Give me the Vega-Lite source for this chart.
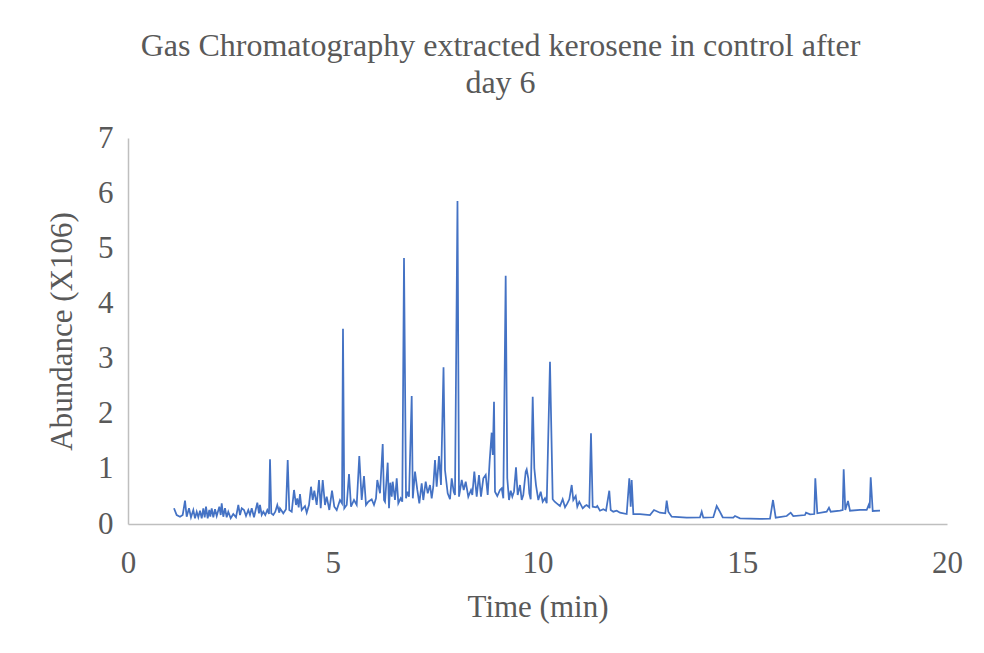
{
  "$schema": "https://vega.github.io/schema/vega-lite/v6.json",
  "autosize": "none",
  "width": 819,
  "height": 386,
  "padding": {"left": 128, "top": 138, "right": 37, "bottom": 129},
  "background": "white",
  "title": {
    "text": ["Gas Chromatography extracted kerosene in control after", "day 6"],
    "font": "Liberation Serif",
    "fontSize": 32,
    "fontWeight": "normal",
    "color": "#595959",
    "lineHeight": 37,
    "anchor": "middle",
    "frame": "group",
    "dx": -37,
    "offset": 22
  },
  "data": {"values": [
    {"t":1.123,"a":0.285},{"t":1.189,"a":0.163},{"t":1.27,"a":0.132},{"t":1.336,"a":0.163},{"t":1.392,"a":0.423},{"t":1.433,"a":0.132},{"t":1.49,"a":0.285},{"t":1.538,"a":0.122},{"t":1.595,"a":0.254},{"t":1.636,"a":0.103},{"t":1.678,"a":0.223},{"t":1.717,"a":0.122},{"t":1.758,"a":0.241},{"t":1.8,"a":0.103},{"t":1.839,"a":0.285},{"t":1.873,"a":0.122},{"t":1.905,"a":0.314},{"t":1.946,"a":0.103},{"t":1.985,"a":0.254},{"t":2.01,"a":0.132},{"t":2.044,"a":0.285},{"t":2.083,"a":0.122},{"t":2.125,"a":0.267},{"t":2.166,"a":0.145},{"t":2.23,"a":0.314},{"t":2.264,"a":0.163},{"t":2.288,"a":0.375},{"t":2.327,"a":0.132},{"t":2.369,"a":0.285},{"t":2.41,"a":0.122},{"t":2.449,"a":0.223},{"t":2.508,"a":0.103},{"t":2.571,"a":0.181},{"t":2.637,"a":0.122},{"t":2.694,"a":0.345},{"t":2.735,"a":0.163},{"t":2.777,"a":0.285},{"t":2.833,"a":0.254},{"t":2.882,"a":0.145},{"t":2.938,"a":0.254},{"t":2.979,"a":0.163},{"t":3.021,"a":0.285},{"t":3.077,"a":0.122},{"t":3.158,"a":0.386},{"t":3.199,"a":0.194},{"t":3.223,"a":0.345},{"t":3.265,"a":0.163},{"t":3.304,"a":0.223},{"t":3.353,"a":0.163},{"t":3.402,"a":0.254},{"t":3.443,"a":0.181},{"t":3.468,"a":1.173},{"t":3.499,"a":0.194},{"t":3.548,"a":0.163},{"t":3.597,"a":0.223},{"t":3.646,"a":0.345},{"t":3.695,"a":0.205},{"t":3.712,"a":0.285},{"t":3.792,"a":0.194},{"t":3.858,"a":0.267},{"t":3.9,"a":1.161},{"t":3.939,"a":0.254},{"t":3.998,"a":0.223},{"t":4.054,"a":0.617},{"t":4.103,"a":0.345},{"t":4.134,"a":0.466},{"t":4.168,"a":0.303},{"t":4.2,"a":0.544},{"t":4.242,"a":0.254},{"t":4.322,"a":0.326},{"t":4.364,"a":0.205},{"t":4.42,"a":0.345},{"t":4.469,"a":0.676},{"t":4.51,"a":0.435},{"t":4.55,"a":0.604},{"t":4.608,"a":0.345},{"t":4.664,"a":0.798},{"t":4.706,"a":0.285},{"t":4.755,"a":0.798},{"t":4.811,"a":0.345},{"t":4.852,"a":0.495},{"t":4.916,"a":0.254},{"t":4.982,"a":0.604},{"t":5.038,"a":0.314},{"t":5.097,"a":0.254},{"t":5.177,"a":0.435},{"t":5.226,"a":0.375},{"t":5.25,"a":3.542},{"t":5.282,"a":0.285},{"t":5.341,"a":0.345},{"t":5.397,"a":0.907},{"t":5.446,"a":0.314},{"t":5.519,"a":0.435},{"t":5.585,"a":0.345},{"t":5.648,"a":1.233},{"t":5.707,"a":0.435},{"t":5.763,"a":0.871},{"t":5.812,"a":0.345},{"t":5.868,"a":0.404},{"t":5.951,"a":0.448},{"t":6.007,"a":0.345},{"t":6.056,"a":0.466},{"t":6.088,"a":0.798},{"t":6.154,"a":0.557},{"t":6.22,"a":1.451},{"t":6.252,"a":0.435},{"t":6.276,"a":0.404},{"t":6.342,"a":1.112},{"t":6.374,"a":0.285},{"t":6.405,"a":0.749},{"t":6.44,"a":0.495},{"t":6.464,"a":0.767},{"t":6.52,"a":0.435},{"t":6.562,"a":0.829},{"t":6.601,"a":0.375},{"t":6.659,"a":0.466},{"t":6.698,"a":0.404},{"t":6.74,"a":4.824},{"t":6.789,"a":0.466},{"t":6.83,"a":0.586},{"t":6.862,"a":0.495},{"t":6.928,"a":2.321},{"t":6.955,"a":0.466},{"t":7.009,"a":0.949},{"t":7.065,"a":0.617},{"t":7.114,"a":0.375},{"t":7.172,"a":0.738},{"t":7.211,"a":0.435},{"t":7.27,"a":0.767},{"t":7.319,"a":0.557},{"t":7.375,"a":0.707},{"t":7.416,"a":0.466},{"t":7.455,"a":0.676},{"t":7.497,"a":1.161},{"t":7.538,"a":0.676},{"t":7.595,"a":1.233},{"t":7.643,"a":0.707},{"t":7.705,"a":2.842},{"t":7.741,"a":0.979},{"t":7.807,"a":0.557},{"t":7.863,"a":0.448},{"t":7.905,"a":0.829},{"t":7.954,"a":0.586},{"t":7.985,"a":0.526},{"t":8.046,"a":5.858},{"t":8.083,"a":0.495},{"t":8.149,"a":0.798},{"t":8.198,"a":0.617},{"t":8.247,"a":0.767},{"t":8.31,"a":0.495},{"t":8.376,"a":0.617},{"t":8.408,"a":0.526},{"t":8.457,"a":0.949},{"t":8.515,"a":0.495},{"t":8.571,"a":0.889},{"t":8.62,"a":0.495},{"t":8.677,"a":0.829},{"t":8.735,"a":0.889},{"t":8.784,"a":0.526},{"t":8.833,"a":1.161},{"t":8.881,"a":1.656},{"t":8.908,"a":1.251},{"t":8.938,"a":2.218},{"t":8.962,"a":0.586},{"t":9.018,"a":0.508},{"t":9.084,"a":0.617},{"t":9.126,"a":0.647},{"t":9.165,"a":0.466},{"t":9.223,"a":4.503},{"t":9.262,"a":0.829},{"t":9.304,"a":0.435},{"t":9.346,"a":0.604},{"t":9.385,"a":0.495},{"t":9.426,"a":0.586},{"t":9.475,"a":1.028},{"t":9.516,"a":0.526},{"t":9.573,"a":0.707},{"t":9.614,"a":0.435},{"t":9.653,"a":0.526},{"t":9.712,"a":0.949},{"t":9.736,"a":0.992},{"t":9.775,"a":0.829},{"t":9.8,"a":0.557},{"t":9.834,"a":0.448},{"t":9.883,"a":2.309},{"t":9.922,"a":1.01},{"t":9.963,"a":0.707},{"t":10.02,"a":0.435},{"t":10.078,"a":0.586},{"t":10.127,"a":0.404},{"t":10.183,"a":0.466},{"t":10.225,"a":0.375},{"t":10.305,"a":2.943},{"t":10.371,"a":0.448},{"t":10.42,"a":0.404},{"t":10.469,"a":0.375},{"t":10.549,"a":0.326},{"t":10.615,"a":0.448},{"t":10.672,"a":0.303},{"t":10.728,"a":0.375},{"t":10.777,"a":0.448},{"t":10.835,"a":0.707},{"t":10.874,"a":0.435},{"t":10.933,"a":0.508},{"t":10.972,"a":0.314},{"t":11.021,"a":0.404},{"t":11.104,"a":0.285},{"t":11.16,"a":0.326},{"t":11.201,"a":0.345},{"t":11.265,"a":0.303},{"t":11.306,"a":1.645},{"t":11.348,"a":0.314},{"t":11.429,"a":0.303},{"t":11.46,"a":0.326},{"t":11.526,"a":0.241},{"t":11.607,"a":0.267},{"t":11.673,"a":0.241},{"t":11.753,"a":0.604},{"t":11.788,"a":0.254},{"t":11.851,"a":0.223},{"t":11.934,"a":0.241},{"t":12.015,"a":0.205},{"t":12.178,"a":0.181},{"t":12.242,"a":0.829},{"t":12.276,"a":0.314},{"t":12.3,"a":0.798},{"t":12.34,"a":0.181},{"t":12.503,"a":0.181},{"t":12.747,"a":0.163},{"t":12.845,"a":0.254},{"t":12.991,"a":0.205},{"t":13.121,"a":0.194},{"t":13.155,"a":0.423},{"t":13.194,"a":0.223},{"t":13.277,"a":0.132},{"t":13.643,"a":0.114},{"t":13.968,"a":0.122},{"t":14.01,"a":0.223},{"t":14.049,"a":0.114},{"t":14.293,"a":0.122},{"t":14.376,"a":0.326},{"t":14.44,"a":0.241},{"t":14.523,"a":0.122},{"t":14.781,"a":0.114},{"t":14.823,"a":0.145},{"t":14.945,"a":0.103},{"t":15.433,"a":0.091},{"t":15.678,"a":0.096},{"t":15.751,"a":0.435},{"t":15.817,"a":0.114},{"t":16.085,"a":0.145},{"t":16.183,"a":0.205},{"t":16.246,"a":0.145},{"t":16.532,"a":0.163},{"t":16.557,"a":0.205},{"t":16.654,"a":0.176},{"t":16.759,"a":0.181},{"t":16.784,"a":0.829},{"t":16.833,"a":0.194},{"t":17.062,"a":0.223},{"t":17.118,"a":0.296},{"t":17.16,"a":0.223},{"t":17.387,"a":0.241},{"t":17.453,"a":0.254},{"t":17.477,"a":0.992},{"t":17.516,"a":0.254},{"t":17.582,"a":0.417},{"t":17.631,"a":0.241},{"t":17.875,"a":0.254},{"t":18.039,"a":0.254},{"t":18.088,"a":0.345},{"t":18.112,"a":0.285},{"t":18.137,"a":0.847},{"t":18.186,"a":0.236},{"t":18.364,"a":0.241}
  ]},
  "mark": {"type": "line", "color": "#4472C4", "strokeWidth": 1.75, "interpolate": "linear"},
  "encoding": {
    "x": {
      "field": "t", "type": "quantitative",
      "scale": {"domain": [0, 20], "nice": false, "zero": false},
      "axis": {
        "title": "Time (min)",
        "values": [0, 5, 10, 15, 20],
        "grid": false, "ticks": false,
        "domainColor": "#BFBFBF", "domainWidth": 1.5,
        "labelFont": "Liberation Serif", "labelFontSize": 31, "labelColor": "#595959",
        "labelPadding": 24, "labelFlush": false,
        "titleFont": "Liberation Serif", "titleFontSize": 31, "titleFontWeight": "normal", "titleColor": "#595959",
        "titleBaseline": "middle", "titleY": 83
      }
    },
    "y": {
      "field": "a", "type": "quantitative",
      "scale": {"domain": [0, 7], "nice": false},
      "axis": {
        "title": "Abundance (X106)",
        "values": [0, 1, 2, 3, 4, 5, 6, 7],
        "grid": false, "ticks": false,
        "domainColor": "#BFBFBF", "domainWidth": 1.5,
        "labelFont": "Liberation Serif", "labelFontSize": 31, "labelColor": "#595959",
        "labelPadding": 15, "labelFlush": false,
        "titleFont": "Liberation Serif", "titleFontSize": 31, "titleFontWeight": "normal", "titleColor": "#595959",
        "titleBaseline": "middle", "titleX": -66, "titleY": 193
      }
    }
  },
  "config": {"view": {"stroke": null}}
}
